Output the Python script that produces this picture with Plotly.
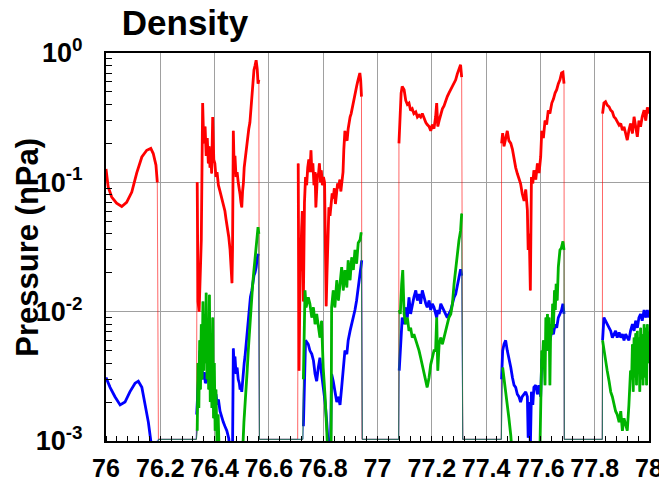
import plotly.graph_objects as go

# (time, pressure in nPa); 0 means no signal and is pinned to the bottom of the axis
red = [
    (76.000, 0.127), (76.008, 0.092), (76.021, 0.077), (76.039, 0.069), (76.058, 0.065),
    (76.076, 0.070), (76.095, 0.084), (76.113, 0.118), (76.132, 0.157), (76.150, 0.177),
    (76.165, 0.183), (76.174, 0.167), (76.184, 0.136), (76.189, 0.100), (76.193, 0),
    (76.333, 0), (76.336, 0.10), (76.339, 0.012), (76.343, 0.010), (76.347, 0.020), (76.351, 0.036),
    (76.356, 0.41), (76.360, 0.20), (76.365, 0.27), (76.369, 0.16), (76.373, 0.22), (76.377, 0.14),
    (76.380, 0.19), (76.383, 0.13), (76.386, 0.17), (76.389, 0.117), (76.393, 0.32), (76.397, 0.15),
    (76.401, 0.14), (76.405, 0.11), (76.409, 0.12), (76.414, 0.095), (76.420, 0.085), (76.426, 0.075),
    (76.432, 0.068), (76.438, 0.060), (76.442, 0.052), (76.447, 0.045), (76.452, 0.038), (76.457, 0.030),
    (76.461, 0.022), (76.464, 0.0166), (76.466, 0.030), (76.469, 0.25), (76.472, 0.13), (76.475, 0.16),
    (76.479, 0.11), (76.483, 0.12), (76.487, 0.10), (76.491, 0.090), (76.494, 0.080), (76.497, 0.070),
    (76.500, 0.064), (76.503, 0.085), (76.506, 0.098), (76.509, 0.13), (76.512, 0.15), (76.515, 0.17),
    (76.518, 0.19), (76.522, 0.23), (76.526, 0.26), (76.530, 0.29), (76.534, 0.38), (76.537, 0.49),
    (76.541, 0.60), (76.545, 0.74), (76.549, 0.80), (76.553, 0.88), (76.557, 0.75), (76.560, 0.58),
    (76.563, 0.62), (76.565, 0),
    (76.706, 0), (76.708, 0.14), (76.711, 0.0035), (76.715, 0.020), (76.719, 0.045), (76.723, 0.060),
    (76.727, 0.012), (76.731, 0.070), (76.735, 0.11), (76.739, 0.095), (76.743, 0.13), (76.747, 0.15),
    (76.751, 0.12), (76.755, 0.177), (76.758, 0.12), (76.762, 0.14), (76.766, 0.095), (76.770, 0.12),
    (76.773, 0.064), (76.776, 0.09), (76.779, 0.117), (76.782, 0.11), (76.786, 0.14), (76.790, 0.10),
    (76.793, 0.124), (76.797, 0.095), (76.801, 0.11), (76.805, 0.10), (76.808, 0.030), (76.811, 0.011),
    (76.814, 0.020), (76.817, 0.045), (76.821, 0.064), (76.825, 0.055), (76.829, 0.070), (76.833, 0.082),
    (76.837, 0.075), (76.841, 0.090), (76.845, 0.068), (76.849, 0.085), (76.853, 0.098), (76.857, 0.090),
    (76.861, 0.105), (76.865, 0.085), (76.869, 0.11), (76.873, 0.12), (76.876, 0.18), (76.880, 0.25),
    (76.884, 0.22), (76.888, 0.21), (76.892, 0.26), (76.896, 0.30), (76.899, 0.32), (76.903, 0.34),
    (76.907, 0.38), (76.911, 0.41), (76.915, 0.45), (76.919, 0.50), (76.923, 0.55), (76.927, 0.60),
    (76.931, 0.65), (76.935, 0.70), (76.938, 0.62), (76.941, 0.46), (76.943, 0),
    (77.078, 0), (77.079, 0.20), (77.087, 0.49), (77.091, 0.55), (77.098, 0.52), (77.104, 0.43),
    (77.110, 0.40), (77.116, 0.41), (77.122, 0.36), (77.128, 0.37), (77.134, 0.34), (77.141, 0.35),
    (77.147, 0.32), (77.153, 0.33), (77.159, 0.32), (77.165, 0.34), (77.171, 0.31), (77.178, 0.29),
    (77.183, 0.28), (77.190, 0.27), (77.196, 0.25), (77.202, 0.28), (77.208, 0.26), (77.214, 0.32),
    (77.218, 0.41), (77.222, 0.27), (77.227, 0.30), (77.233, 0.34), (77.239, 0.37), (77.245, 0.39),
    (77.251, 0.43), (77.257, 0.46), (77.263, 0.49), (77.270, 0.52), (77.276, 0.55), (77.282, 0.58),
    (77.288, 0.62), (77.294, 0.69), (77.300, 0.76), (77.306, 0.81), (77.310, 0.65), (77.314, 0),
    (77.456, 0), (77.457, 0.20), (77.461, 0.24), (77.466, 0.19), (77.472, 0.22), (77.478, 0.25),
    (77.484, 0.21), (77.491, 0.20), (77.497, 0.18), (77.503, 0.148), (77.509, 0.13), (77.515, 0.117),
    (77.521, 0.105), (77.527, 0.098), (77.533, 0.082), (77.540, 0.072), (77.546, 0.088), (77.552, 0.061),
    (77.555, 0.030), (77.559, 0.040), (77.563, 0.0146), (77.567, 0.11), (77.572, 0.098), (77.576, 0.124),
    (77.583, 0.105), (77.589, 0.14), (77.595, 0.118), (77.601, 0.157), (77.605, 0.25), (77.611, 0.22),
    (77.617, 0.30), (77.623, 0.28), (77.629, 0.36), (77.635, 0.34), (77.642, 0.41), (77.648, 0.44),
    (77.654, 0.49), (77.660, 0.52), (77.666, 0.58), (77.672, 0.62), (77.678, 0.70), (77.683, 0.71),
    (77.687, 0.58), (77.688, 0),
    (77.828, 0), (77.829, 0.34), (77.834, 0.41), (77.840, 0.42), (77.846, 0.395), (77.853, 0.384),
    (77.859, 0.361), (77.865, 0.351), (77.871, 0.321), (77.877, 0.311), (77.883, 0.293), (77.890, 0.277),
    (77.896, 0.285), (77.902, 0.253), (77.908, 0.269), (77.914, 0.239), (77.920, 0.212), (77.926, 0.253),
    (77.932, 0.285), (77.939, 0.239), (77.945, 0.321), (77.951, 0.269), (77.957, 0.225), (77.963, 0.30),
    (77.969, 0.269), (77.975, 0.321), (77.982, 0.361), (77.988, 0.30), (77.994, 0.38), (77.999, 0.34),
]

blue = [
    (76.000, 0.0031), (76.015, 0.0026), (76.033, 0.0022), (76.052, 0.0019), (76.070, 0.0020),
    (76.088, 0.0024), (76.107, 0.0028), (76.119, 0.0029), (76.132, 0.0026), (76.144, 0.0019),
    (76.156, 0.0014), (76.168, 0.0009), (76.193, 0),
    (76.332, 0), (76.334, 0.0016), (76.338, 0.0025), (76.342, 0.0035), (76.346, 0.0050), (76.350, 0.0042),
    (76.354, 0.0037), (76.358, 0.0030), (76.362, 0.0034), (76.366, 0.0028), (76.370, 0.0029),
    (76.374, 0.0035), (76.377, 0.0030), (76.381, 0.0033), (76.385, 0.0026), (76.389, 0.0028),
    (76.393, 0.0022), (76.397, 0.0024), (76.401, 0.0020), (76.405, 0.0023), (76.410, 0.0019),
    (76.414, 0.0021), (76.420, 0.0017), (76.426, 0.0015), (76.432, 0.0014), (76.438, 0.0013),
    (76.445, 0.0012), (76.452, 0.00105), (76.458, 0.0008), (76.466, 0.0008), (76.469, 0.0052),
    (76.472, 0.0038), (76.475, 0.0045), (76.479, 0.0033), (76.483, 0.0037), (76.487, 0.0030),
    (76.491, 0.0028), (76.494, 0.0025), (76.497, 0.0027), (76.500, 0.0024), (76.503, 0.0030),
    (76.506, 0.0036), (76.509, 0.0040), (76.512, 0.0045), (76.516, 0.0055), (76.520, 0.0065),
    (76.524, 0.0080), (76.528, 0.011), (76.532, 0.013), (76.537, 0.0145), (76.541, 0.017),
    (76.545, 0.019), (76.549, 0.020), (76.553, 0.022), (76.557, 0.026), (76.561, 0.028), (76.565, 0),
    (76.706, 0), (76.725, 0), (76.727, 0.0013), (76.735, 0.0060), (76.745, 0.0056), (76.751, 0.0050),
    (76.758, 0.0047), (76.764, 0.0042), (76.770, 0.0033), (76.776, 0.0029), (76.782, 0.0037),
    (76.788, 0.0044), (76.794, 0.0033), (76.800, 0.0026), (76.807, 0.0020), (76.813, 0.0014),
    (76.819, 0.0009), (76.827, 0.0009), (76.831, 0.0033), (76.837, 0.0029), (76.843, 0.0024),
    (76.850, 0.0020), (76.856, 0.0022), (76.862, 0.0019), (76.868, 0.0026), (76.874, 0.0037),
    (76.880, 0.0050), (76.887, 0.0047), (76.892, 0.0060), (76.899, 0.0071), (76.905, 0.0080),
    (76.911, 0.0090), (76.917, 0.0103), (76.923, 0.0122), (76.929, 0.0154), (76.936, 0.0184),
    (76.942, 0.0249), (76.944, 0),
    (77.078, 0), (77.080, 0.0035), (77.087, 0.0063), (77.091, 0.0090), (77.098, 0.0080), (77.104, 0.0108),
    (77.110, 0.0090), (77.116, 0.0129), (77.122, 0.0096), (77.128, 0.0115), (77.134, 0.0129),
    (77.141, 0.0146), (77.147, 0.0122), (77.153, 0.0137), (77.159, 0.0115), (77.165, 0.0146),
    (77.171, 0.0129), (77.178, 0.0115), (77.183, 0.0108), (77.190, 0.0122), (77.196, 0.0103),
    (77.202, 0.0115), (77.208, 0.0108), (77.214, 0.0096), (77.218, 0.0090), (77.222, 0.0103),
    (77.227, 0.0096), (77.233, 0.0115), (77.239, 0.0108), (77.245, 0.0103), (77.251, 0.0096),
    (77.257, 0.0090), (77.263, 0.0096), (77.270, 0.0103), (77.276, 0.0115), (77.282, 0.0129),
    (77.288, 0.0137), (77.294, 0.0164), (77.300, 0.0184), (77.306, 0.0213), (77.310, 0.0190), (77.314, 0),
    (77.456, 0), (77.457, 0.0030), (77.461, 0.0050), (77.466, 0.0056), (77.472, 0.0060), (77.478, 0.0050),
    (77.484, 0.0044), (77.491, 0.0037), (77.497, 0.0031), (77.503, 0.0027), (77.509, 0.0026),
    (77.515, 0.0023), (77.521, 0.0022), (77.527, 0.0020), (77.533, 0.0022), (77.540, 0.0023),
    (77.546, 0.0024), (77.552, 0.0022), (77.555, 0.00106), (77.559, 0.0020), (77.563, 0.0009),
    (77.567, 0.0024), (77.572, 0.0019), (77.576, 0.0026), (77.583, 0.0027), (77.589, 0.0023),
    (77.595, 0.0027), (77.601, 0.0022), (77.605, 0.0042), (77.611, 0.0047), (77.617, 0.0056),
    (77.623, 0.0050), (77.629, 0.0063), (77.635, 0.0060), (77.642, 0.0071), (77.648, 0.0067),
    (77.654, 0.0080), (77.660, 0.0075), (77.666, 0.0090), (77.672, 0.0096), (77.678, 0.0103),
    (77.683, 0.0115), (77.687, 0.0096), (77.688, 0),
    (77.828, 0), (77.829, 0.0060), (77.834, 0.0090), (77.840, 0.0085), (77.846, 0.0080), (77.853, 0.0075),
    (77.859, 0.0071), (77.865, 0.0063), (77.871, 0.0067), (77.877, 0.0071), (77.883, 0.0063),
    (77.890, 0.0069), (77.896, 0.0063), (77.902, 0.0067), (77.908, 0.0060), (77.914, 0.0067),
    (77.920, 0.0063), (77.926, 0.0060), (77.932, 0.0071), (77.939, 0.0080), (77.945, 0.0071),
    (77.951, 0.0085), (77.957, 0.0075), (77.963, 0.0090), (77.969, 0.0096), (77.975, 0.0085),
    (77.982, 0.0103), (77.988, 0.0090), (77.994, 0.0103), (77.999, 0.0090),
]

green = [
    (76.000, 0.0006), (76.100, 0.0005), (76.190, 0.0005), (76.193, 0),
    (76.333, 0), (76.336, 0.0012), (76.339, 0.0040), (76.342, 0.0018), (76.345, 0.0060), (76.348, 0.0025),
    (76.351, 0.0080), (76.354, 0.0030), (76.357, 0.0120), (76.360, 0.0035), (76.363, 0.0095),
    (76.366, 0.0040), (76.369, 0.0140), (76.372, 0.0030), (76.375, 0.0085), (76.378, 0.0025),
    (76.381, 0.0135), (76.384, 0.0020), (76.387, 0.0060), (76.390, 0.0018), (76.393, 0.0090),
    (76.396, 0.0015), (76.399, 0.0040), (76.402, 0.0012), (76.405, 0.0025), (76.409, 0.0009),
    (76.413, 0.0016), (76.417, 0.0008), (76.503, 0.0008), (76.508, 0.0014), (76.512, 0.0018),
    (76.516, 0.0026), (76.520, 0.0035), (76.524, 0.0050), (76.528, 0.0070), (76.532, 0.0095),
    (76.536, 0.0120), (76.540, 0.0160), (76.544, 0.0200), (76.548, 0.0240), (76.552, 0.0280),
    (76.556, 0.0350), (76.560, 0.0450), (76.563, 0.0400), (76.565, 0),
    (76.706, 0), (76.725, 0), (76.727, 0.0030), (76.733, 0.0146), (76.737, 0.0108), (76.745, 0.0129),
    (76.751, 0.0115), (76.758, 0.0090), (76.764, 0.0108), (76.770, 0.0080), (76.776, 0.0096),
    (76.782, 0.0075), (76.788, 0.0063), (76.794, 0.0085), (76.800, 0.0037), (76.807, 0.0022),
    (76.813, 0.0013), (76.817, 0.0008), (76.829, 0.0008), (76.831, 0.0108), (76.837, 0.0146),
    (76.843, 0.0108), (76.850, 0.0175), (76.856, 0.0122), (76.862, 0.0164), (76.868, 0.0221),
    (76.874, 0.0146), (76.880, 0.0210), (76.887, 0.0154), (76.892, 0.0249), (76.899, 0.0175),
    (76.905, 0.0263), (76.911, 0.0210), (76.917, 0.0300), (76.923, 0.0235), (76.929, 0.0340),
    (76.936, 0.0360), (76.940, 0.0410), (76.944, 0),
    (77.078, 0), (77.080, 0.0103), (77.084, 0.0096), (77.089, 0.0164), (77.093, 0.0210), (77.098, 0.0096),
    (77.104, 0.0080), (77.110, 0.0090), (77.116, 0.0071), (77.122, 0.0075), (77.128, 0.0063),
    (77.134, 0.0067), (77.141, 0.0060), (77.147, 0.0056), (77.153, 0.0050), (77.159, 0.0044),
    (77.165, 0.0039), (77.171, 0.0035), (77.178, 0.0029), (77.183, 0.0026), (77.190, 0.0031),
    (77.196, 0.0039), (77.202, 0.0044), (77.208, 0.0050), (77.214, 0.0050), (77.218, 0.0090),
    (77.222, 0.0035), (77.227, 0.0056), (77.233, 0.0063), (77.239, 0.0056), (77.245, 0.0063),
    (77.251, 0.0071), (77.257, 0.0080), (77.263, 0.0090), (77.270, 0.0096), (77.276, 0.0115),
    (77.282, 0.0164), (77.288, 0.0221), (77.294, 0.0300), (77.300, 0.0356), (77.306, 0.0423),
    (77.310, 0.0573), (77.314, 0),
    (77.456, 0), (77.461, 0.0037), (77.466, 0.0031), (77.472, 0.0024), (77.478, 0.0019), (77.484, 0.0015),
    (77.491, 0.0011), (77.496, 0.0008), (77.598, 0.0008), (77.601, 0.0015), (77.605, 0.0050),
    (77.607, 0.0037), (77.611, 0.0060), (77.617, 0.0027), (77.620, 0.0090), (77.623, 0.0060),
    (77.626, 0.0096), (77.629, 0.0050), (77.632, 0.0090), (77.635, 0.0027), (77.638, 0.0080),
    (77.642, 0.0067), (77.645, 0.0115), (77.648, 0.0075), (77.652, 0.0146), (77.655, 0.0103),
    (77.658, 0.0164), (77.662, 0.0122), (77.666, 0.0221), (77.672, 0.0300), (77.677, 0.0310),
    (77.683, 0.0350), (77.687, 0.0300), (77.688, 0),
    (77.828, 0), (77.829, 0.0060), (77.834, 0.0050), (77.840, 0.0042), (77.846, 0.0035), (77.853, 0.0029),
    (77.859, 0.0024), (77.865, 0.0022), (77.871, 0.0019), (77.877, 0.0017), (77.883, 0.0016),
    (77.890, 0.0014), (77.896, 0.0017), (77.902, 0.0012), (77.908, 0.0015), (77.914, 0.0013),
    (77.920, 0.0012), (77.926, 0.0019), (77.932, 0.0035), (77.936, 0.0030), (77.939, 0.0056),
    (77.942, 0.0024), (77.945, 0.0063), (77.948, 0.0031), (77.951, 0.0068), (77.954, 0.0027),
    (77.957, 0.0071), (77.960, 0.0035), (77.963, 0.0063), (77.966, 0.0024), (77.969, 0.0075),
    (77.972, 0.0030), (77.975, 0.0067), (77.978, 0.0027), (77.982, 0.0080), (77.985, 0.0031),
    (77.988, 0.0075), (77.991, 0.0027), (77.994, 0.0080), (77.997, 0.0040), (77.999, 0.0070),
]

x_ticks = [76, 76.2, 76.4, 76.6, 76.8, 77, 77.2, 77.4, 77.6, 77.8, 78]
x_labels = ["76", "76.2", "76.4", "76.6", "76.8", "77", "77.2", "77.4", "77.6", "77.8", "78"]
y_ticks = [1e-3, 1e-2, 1e-1, 1]
y_labels = ["10<sup>-3</sup>", "10<sup>-2</sup>", "10<sup>-1</sup>", "10<sup>0</sup>"]

FLOOR = 1.03e-3
FONT = "Liberation Sans"

fig = go.Figure()

series = [
    (red, "#ff0000", "rgba(255,0,0,0.6)"),
    (blue, "#0000ff", "rgba(0,0,255,0.6)"),
    (green, "#00b400", "rgba(30,125,70,0.9)"),
]
for pts, color, edge in series:
    t = [p[0] for p in pts]
    v = [p[1] for p in pts]
    # thin pass: whole record incl. the drops to "no signal"
    fig.add_trace(go.Scatter(x=t, y=[y if y > 0 else FLOOR for y in v], mode="lines",
                             line=dict(color=edge, width=1), hoverinfo="skip"))
    # thick pass: only where there is signal
    fig.add_trace(go.Scatter(x=t, y=[y if y > 0 else None for y in v], mode="lines",
                             line=dict(color=color, width=2.8)))

# the page body adds an 8px margin, so the figure is 8px smaller than the window
fig.update_layout(
    width=659, height=476, autosize=False,
    margin=dict(l=98, r=18, t=45, b=43),
    paper_bgcolor="white", plot_bgcolor="white",
    showlegend=False,
    title=dict(text="Density", xref="container", x=0.2686, xanchor="center",
               yref="container", y=0.968, yanchor="middle",
               font=dict(family=FONT, size=35, color="black", weight="bold")),
)

# major ticks are invisible "outside" ticks, only used to push the labels off the axis;
# the visible tick marks are the inside minor ticks
fig.update_xaxes(
    range=[76, 78], tickmode="array", tickvals=x_ticks, ticktext=x_labels, tickangle=0,
    tickfont=dict(family=FONT, size=25, color="black", weight="bold"),
    showgrid=True, gridcolor="#a0a0a0", gridwidth=1, zeroline=False, automargin=False,
    showline=True, linecolor="black", linewidth=2, mirror=True,
    ticks="outside", ticklen=4, tickcolor="rgba(0,0,0,0)",
    minor=dict(dtick=0.04, tick0=76, ticks="inside", ticklen=5, tickcolor="black", showgrid=False),
)

fig.update_yaxes(
    type="log", range=[-3, 0], tickmode="array", tickvals=y_ticks, ticktext=y_labels,
    tickfont=dict(family=FONT, size=27, color="black", weight="bold"),
    showgrid=True, gridcolor="#a0a0a0", gridwidth=1, zeroline=False, automargin=False,
    showline=True, linecolor="black", linewidth=2, mirror=True,
    ticks="outside", ticklen=16, tickcolor="rgba(0,0,0,0)",
    minor=dict(tickmode="array", tickvals=[k * 10.0 ** e for e in (-3, -2, -1) for k in range(2, 10)],
               ticks="inside", ticklen=6, tickcolor="black", showgrid=False),
)

fig.add_annotation(
    text="Pressure (nPa)", textangle=-90, showarrow=False,
    xref="paper", yref="paper", x=-0.146, y=0.5, xanchor="center", yanchor="middle",
    font=dict(family=FONT, size=31, color="black", weight="bold"),
)

fig.write_html("out.html")
